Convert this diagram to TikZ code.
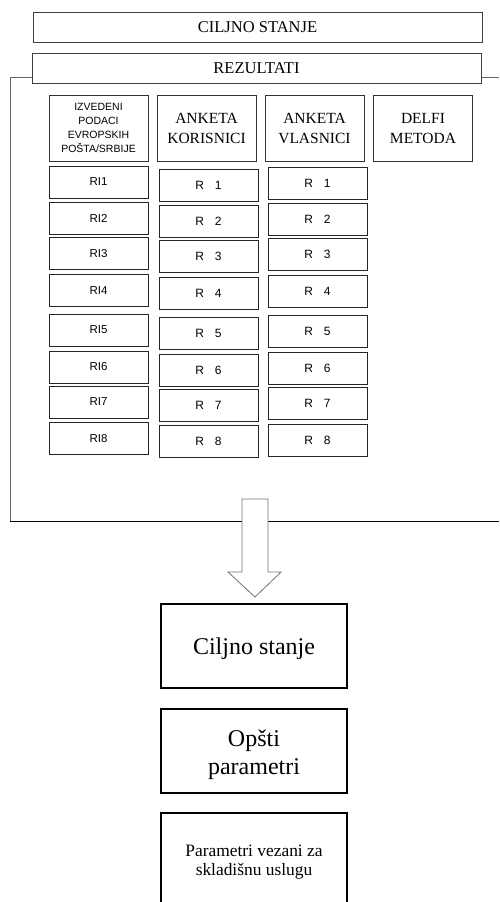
\documentclass[tikz,border=0pt]{standalone}
\usepackage{fontspec}
\setmainfont{Liberation Serif}
\newfontfamily\arialf{Liberation Sans}
\begin{document}
\begin{tikzpicture}[x=1pt,y=-1pt,
  frameline/.style={draw=black!60,line width=0.9pt},
  topbox/.style={draw=black!75,line width=0.9pt,minimum width=449pt,minimum height=30pt,inner sep=0pt,
    font=\fontsize{16.5}{19}\selectfont},
  headbox/.style={draw=black!80,line width=0.9pt,minimum width=99pt,minimum height=66pt,inner sep=0pt,align=center,
    font=\fontsize{15.5}{20}\selectfont},
  smallhead/.style={headbox,font=\arialf\fontsize{10.5}{14}\selectfont},
  ribox/.style={draw=black!85,line width=0.9pt,minimum width=99pt,minimum height=32pt,inner sep=0pt,
    font=\arialf\fontsize{11.5}{13}\selectfont},
  rbox/.style={ribox,font=\arialf\fontsize{12}{13}\selectfont},
  bigbox/.style={draw=black,line width=2pt,minimum width=186pt,minimum height=84pt,inner sep=0pt,align=center},
  blockarrow/.style={draw=black!55,line width=0.8pt,fill=white}
]
\useasboundingbox (0,0) rectangle (499,902);
% outer frame
\draw[frameline] (32,77) -- (10,77) -- (10,521);
\draw[draw=black,line width=0.9pt] (10,521) -- (499,521);
\draw[frameline] (481,77) -- (499,77);
% top boxes
\node[topbox] (cilj) at (257.5,27.5) {CILJNO STANJE};
\node[topbox,fill=white] (rez) at (256.5,68) {REZULTATI};
% headers
\node[smallhead] (h1) at (98.5,128) {IZVEDENI\\PODACI\\EVROPSKIH\\POŠTA/SRBIJE};
\node[headbox] (h2) at (206.5,128) {ANKETA\\KORISNICI};
\node[headbox] (h3) at (314.5,128) {ANKETA\\VLASNICI};
\node[headbox] (h4) at (423,128) {DELFI\\METODA};
% RI column
\node[ribox] (ri1) at (98.5,182) {RI1};
\node[ribox] (ri2) at (98.5,218.5) {RI2};
\node[ribox] (ri3) at (98.5,253.5) {RI3};
\node[ribox] (ri4) at (98.5,290.5) {RI4};
\node[ribox] (ri5) at (98.5,330) {RI5};
\node[ribox] (ri6) at (98.5,367) {RI6};
\node[ribox] (ri7) at (98.5,402) {RI7};
\node[ribox] (ri8) at (98.5,438.5) {RI8};
% Korisnici column
\node[rbox] (k1) at (208.5,185) {R\hspace{11pt}1};
\node[rbox] (k2) at (208.5,221) {R\hspace{11pt}2};
\node[rbox] (k3) at (208.5,256.5) {R\hspace{11pt}3};
\node[rbox] (k4) at (208.5,293.5) {R\hspace{11pt}4};
\node[rbox] (k5) at (208.5,333) {R\hspace{11pt}5};
\node[rbox] (k6) at (208.5,370) {R\hspace{11pt}6};
\node[rbox] (k7) at (208.5,405) {R\hspace{11pt}7};
\node[rbox] (k8) at (208.5,441.5) {R\hspace{11pt}8};
% Vlasnici column
\node[rbox] (v1) at (317.5,183.5) {R\hspace{11pt}1};
\node[rbox] (v2) at (317.5,219.5) {R\hspace{11pt}2};
\node[rbox] (v3) at (317.5,254.5) {R\hspace{11pt}3};
\node[rbox] (v4) at (317.5,291.5) {R\hspace{11pt}4};
\node[rbox] (v5) at (317.5,331.5) {R\hspace{11pt}5};
\node[rbox] (v6) at (317.5,368.5) {R\hspace{11pt}6};
\node[rbox] (v7) at (317.5,403.5) {R\hspace{11pt}7};
\node[rbox] (v8) at (317.5,440) {R\hspace{11pt}8};
% block arrow
\draw[blockarrow] (242,499) -- (268,499) -- (268,572) -- (281,572) -- (255,597) -- (228,572) -- (242,572) -- cycle;
% bottom boxes
\node[bigbox,minimum height=84pt] (cs) at (254,646) {};
\node[font=\fontsize{24}{28}\selectfont,inner sep=0pt] (cst) at (254,649) {Ciljno stanje};
\node[bigbox] (op) at (254,751) {};
\node[align=center,inner sep=0pt,font=\fontsize{24}{28}\selectfont] (opt) at (254,755) {Opšti\\parametri};
\node[align=center,inner sep=0pt,font=\fontsize{17.4}{19}\selectfont] (pv) at (254,862) {Parametri vezani za\\skladišnu uslugu};
\draw[draw=black,line width=2pt] (161,903) -- (161,813) -- (347,813) -- (347,903);
\end{tikzpicture}
\end{document}
